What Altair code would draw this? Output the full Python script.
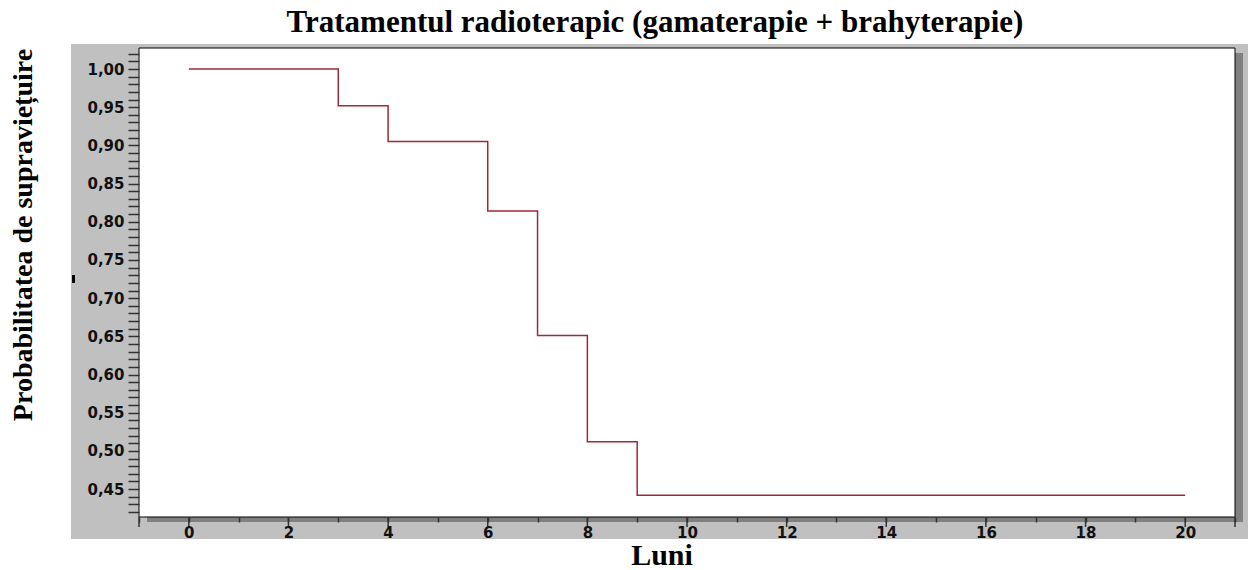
import altair as alt
import pandas as pd

# Kaplan-Meier step data (months, survival probability)
months = [0, 3, 4, 6, 7, 8, 9, 20]
survival = [1.00, 0.952, 0.905, 0.814, 0.651, 0.512, 0.442, 0.442]

x_major_ticks = [-1, 0, 2, 4, 6, 8, 10, 12, 14, 16, 18, 20, 21]
x_minor_ticks = [i / 2 for i in range(-2, 43)]
y_ticks = [round(0.42 + i * 0.01, 2) for i in range(61)]

title_text = "Tratamentul radioterapic (gamaterapie + brahyterapie)"
y_title = "Probabilitatea de supraviețuire"
x_title = "Luni"

W, H = 1096, 469
XDOM = [-1, 21]
YDOM = [0.4135, 1.0275]

df = pd.DataFrame({"luni": months, "p": survival})
one = alt.Data(values=[{"a": 1}])

xs = alt.Scale(domain=XDOM, nice=False, zero=False)
ys = alt.Scale(domain=YDOM, nice=False, zero=False)

gray = alt.Chart(one).mark_rect(color="#c0c0c0").encode(
    x=alt.value(-68), x2=alt.value(W + 13), y=alt.value(-4), y2=alt.value(H + 22)
)
shadow_b = alt.Chart(one).mark_rect(color="#808080").encode(
    x=alt.value(8), x2=alt.value(W + 8), y=alt.value(H), y2=alt.value(H + 5)
)
shadow_r = alt.Chart(one).mark_rect(color="#808080").encode(
    x=alt.value(W), x2=alt.value(W + 8), y=alt.value(5), y2=alt.value(H + 5)
)
white = alt.Chart(one).mark_rect(fill="white", stroke="black", strokeWidth=1).encode(
    x=alt.value(0), x2=alt.value(W), y=alt.value(0), y2=alt.value(H)
)
stray = alt.Chart(one).mark_rect(color="black").encode(
    x=alt.value(-67), x2=alt.value(-64), y=alt.value(227), y2=alt.value(235)
)

line = alt.Chart(df).mark_line(interpolate="step-after", color="#a0283a", strokeWidth=1.5).encode(
    x=alt.X("luni:Q", scale=xs, axis=alt.Axis(
        values=x_minor_ticks, tickSize=5, tickColor="#333333", tickWidth=1.5,
        domain=False, grid=False, title=None, zindex=2,
        labelExpr="(datum.value % 2 == 0 && datum.value >= 0 && datum.value <= 20) ? datum.label : ''",
        labelFont="DejaVu Sans", labelFontSize=15, labelFontWeight="bold", labelColor="#111111",
        labelPadding=3, labelFlush=False, labelOverlap=False, format="d")),
    y=alt.Y("p:Q", scale=ys, axis=alt.Axis(
        values=y_ticks, tickSize=11, tickColor="#333333", tickWidth=1.5,
        domain=False, grid=False, title=None, zindex=2,
        labelExpr="(round(datum.value*100) % 5 == 0 && datum.value > 0.445 && datum.value < 1.005) ? replace(format(datum.value, '.2f'), '.', ',') : ''",
        labelFont="DejaVu Sans", labelFontSize=15, labelFontWeight="bold", labelColor="#111111",
        labelPadding=4, labelFlush=False, labelOverlap=False)),
)

major = alt.Chart(pd.DataFrame({"t": x_major_ticks})).mark_rule(color="#333333", strokeWidth=1.5).encode(
    x=alt.X("t:Q", scale=xs), y=alt.value(H), y2=alt.value(H + 10)
)

t_title = alt.Chart(one).mark_text(font="Liberation Serif", fontWeight="bold", fontSize=31,
                                   align="center", baseline="alphabetic", color="black").encode(
    x=alt.value(516), y=alt.value(-16), text=alt.value(title_text))
t_y = alt.Chart(one).mark_text(font="Liberation Serif", fontWeight="bold", fontSize=28, angle=270,
                               align="center", baseline="alphabetic", color="black").encode(
    x=alt.value(-107), y=alt.value(187), text=alt.value(y_title))
t_x = alt.Chart(one).mark_text(font="Liberation Serif", fontWeight="bold", fontSize=30,
                               align="center", baseline="alphabetic", color="black").encode(
    x=alt.value(523), y=alt.value(517), text=alt.value(x_title))

chart = alt.layer(gray, shadow_b, shadow_r, white, stray, line, major, t_title, t_y, t_x).properties(
    width=W, height=H,
    autosize=alt.AutoSizeParams(type="none"),
    padding={"left": 131, "top": 40, "right": 13, "bottom": 50},
).configure_view(stroke=None, fill=None).configure(background="white")

chart.save("out.html", embed_options={"renderer": "svg", "actions": False})
